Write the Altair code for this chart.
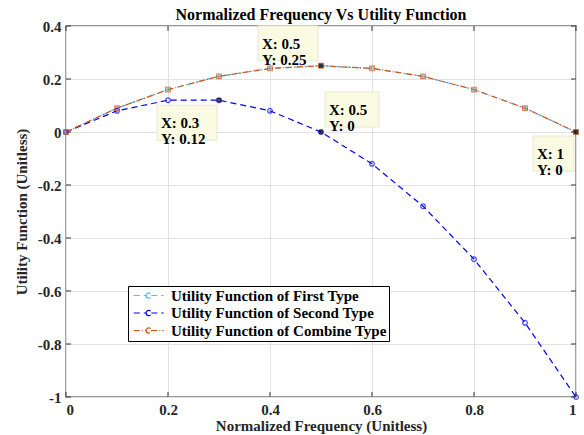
import altair as alt
import pandas as pd

# ---------------- data ----------------
freq = [0.0, 0.1, 0.2, 0.3, 0.4, 0.5, 0.6, 0.7, 0.8, 0.9, 1.0]
first_type = [0.0, 0.09, 0.16, 0.21, 0.24, 0.25, 0.24, 0.21, 0.16, 0.09, 0.0]
second_type = [0.0, 0.08, 0.12, 0.12, 0.08, 0.0, -0.12, -0.28, -0.48, -0.72, -1.0]
combine_type = [0.0, 0.09, 0.16, 0.21, 0.24, 0.25, 0.24, 0.21, 0.16, 0.09, 0.0]

series_names = [
    "Utility Function of First Type",
    "Utility Function of Second Type",
    "Utility Function of Combine Type",
]
series_colors = ["#4DBEEE", "#0000FF", "#D95319"]
series_dash = [[6, 4], [6, 4], [6, 2, 1, 2]]
series_shapes = ["diamond", "circle", "square"]
series_sizes = [12, 22, 22]

x_ticks = [0.0, 0.2, 0.4, 0.6, 0.8, 1.0]
y_ticks = [-1.0, -0.8, -0.6, -0.4, -0.2, 0.0, 0.2, 0.4]

tip_x = [0.5, 0.3, 0.5, 1.0]
tip_y = [0.25, 0.12, 0.0, 0.0]

# ---------------- styles ----------------
FONT = "Liberation Serif"
W, H = 510, 371

series_values = [first_type, second_type, combine_type]
rows = []
for name, vals in zip(series_names, series_values):
    for xv, yv in zip(freq, vals):
        rows.append({"x": xv, "y": yv, "series": name})
df = pd.DataFrame(rows)

xscale = alt.Scale(domain=[0, 1], nice=False, zero=False)
yscale = alt.Scale(domain=[-1, 0.4], nice=False, zero=False)
label_expr = "'' + round(datum.value * 10) / 10"

legend = alt.Legend(
    title=None,
    orient="none",
    legendX=62,
    legendY=260,
    fillColor="white",
    strokeColor="black",
    padding=2,
    rowPadding=1.5,
    labelFont=FONT,
    labelFontSize=15,
    labelFontWeight="bold",
    labelColor="black",
    labelLimit=400,
    labelOffset=26,
    symbolType="M-1,0H2.3M3.7,0H7M2.3,0A0.7,0.7,0,1,1,3.7,0A0.7,0.7,0,1,1,2.3,0",
    symbolSize=56,
    symbolStrokeWidth=1.2,
    symbolFillColor="white",
)

color_enc = alt.Color(
    "series:N",
    scale=alt.Scale(domain=series_names, range=series_colors),
    legend=legend,
)
dash_enc = alt.StrokeDash(
    "series:N",
    scale=alt.Scale(domain=series_names, range=series_dash),
    legend=legend,
)

x_axis = alt.Axis(
    values=x_ticks, labelExpr=label_expr, title="Normalized Frequency (Unitless)",
    labelPadding=5, titlePadding=1,
)
y_axis = alt.Axis(
    values=y_ticks, labelExpr=label_expr, title="Utility Function (Unitless)",
    labelPadding=5, titlePadding=8,
)

lines = alt.Chart(df).mark_line(strokeWidth=1.2).encode(
    x=alt.X("x:Q", scale=xscale, axis=x_axis),
    y=alt.Y("y:Q", scale=yscale, axis=y_axis),
    color=color_enc,
    strokeDash=dash_enc,
    order=alt.Order("x:Q"),
)

point_layers = []
for name, col, shp, sz in zip(series_names, series_colors, series_shapes, series_sizes):
    sub = df[df["series"] == name]
    point_layers.append(
        alt.Chart(sub).mark_point(shape=shp, filled=False, size=sz, strokeWidth=1.2, color=col).encode(
            x=alt.X("x:Q", scale=xscale),
            y=alt.Y("y:Q", scale=yscale),
        )
    )

# inward ticks on all four sides
xt = pd.DataFrame({"v": x_ticks})
yt = pd.DataFrame({"v": y_ticks})
tick_color = "#333333"
ticks = [
    alt.Chart(xt).mark_rule(color=tick_color, strokeWidth=1).encode(
        x=alt.X("v:Q", scale=xscale), y=alt.value(H - 5), y2=alt.value(H)),
    alt.Chart(xt).mark_rule(color=tick_color, strokeWidth=1).encode(
        x=alt.X("v:Q", scale=xscale), y=alt.value(0), y2=alt.value(5)),
    alt.Chart(yt).mark_rule(color=tick_color, strokeWidth=1).encode(
        y=alt.Y("v:Q", scale=yscale), x=alt.value(0), x2=alt.value(5)),
    alt.Chart(yt).mark_rule(color=tick_color, strokeWidth=1).encode(
        y=alt.Y("v:Q", scale=yscale), x=alt.value(W - 5), x2=alt.value(W)),
]

# data tips
tips = pd.DataFrame({"x": tip_x, "y": tip_y})
tips["label"] = [f"X: {a:g}\nY: {b:g}" for a, b in zip(tip_x, tip_y)]
# (x0, x1, y0, y1) box offsets and (dx, dy) text offsets relative to the tip point
box_off = [(-63, -3, -40, -5), (-62, -2, 5, 40), (4, 58, -40, -5), (-43, -2, 4, 39)]
txt_off = [(-59, -22), (-58, 23), (8, -22), (-39, 22)]

tip_layers = []
for i in range(len(tip_x)):
    one = tips.iloc[[i]]
    bx0, bx1, by0, by1 = box_off[i]
    tdx, tdy = txt_off[i]
    tip_layers.append(
        alt.Chart(one).mark_rect(
            fill="#fbfbe3", stroke="#e2e2cc", strokeWidth=0.8,
            xOffset=bx0, x2Offset=bx1, yOffset=by0, y2Offset=by1,
        ).encode(
            x=alt.X("x:Q", scale=xscale), x2="x", y=alt.Y("y:Q", scale=yscale), y2="y"
        )
    )
    tip_layers.append(
        alt.Chart(one).mark_text(
            align="left", baseline="middle", dx=tdx, dy=tdy, lineBreak="\n", lineHeight=16,
            font=FONT, fontSize=15, fontWeight="bold", color="black",
        ).encode(
            x=alt.X("x:Q", scale=xscale), y=alt.Y("y:Q", scale=yscale), text="label:N"
        )
    )

tip_points = alt.Chart(tips).mark_square(size=20, color="black").encode(
    x=alt.X("x:Q", scale=xscale), y=alt.Y("y:Q", scale=yscale)
)

chart = alt.layer(
    lines, *point_layers, *ticks, tip_points, *tip_layers
).properties(
    width=W,
    height=H,
    title=alt.TitleParams(
        "Normalized Frequency Vs Utility Function",
        font=FONT, fontSize=16, fontWeight="bold", color="black", anchor="middle",
        offset=4, dy=8,
    ),
    autosize=alt.AutoSizeParams(type="none"),
    padding={"left": 66, "top": 26, "right": 8, "bottom": 38},
).configure_axis(
    labelFont=FONT,
    labelFontSize=15,
    labelFontWeight="bold",
    labelColor="#262626",
    titleFont=FONT,
    titleFontSize=15,
    titleFontWeight="bold",
    titleColor="#262626",
    grid=True,
    gridColor="#e2e2e2",
    gridWidth=1,
    domain=False,
    ticks=False,
).configure_view(
    stroke="#333333", strokeWidth=1.3
)

chart.save("out.html", embed_options={"renderer": "svg", "actions": False})
